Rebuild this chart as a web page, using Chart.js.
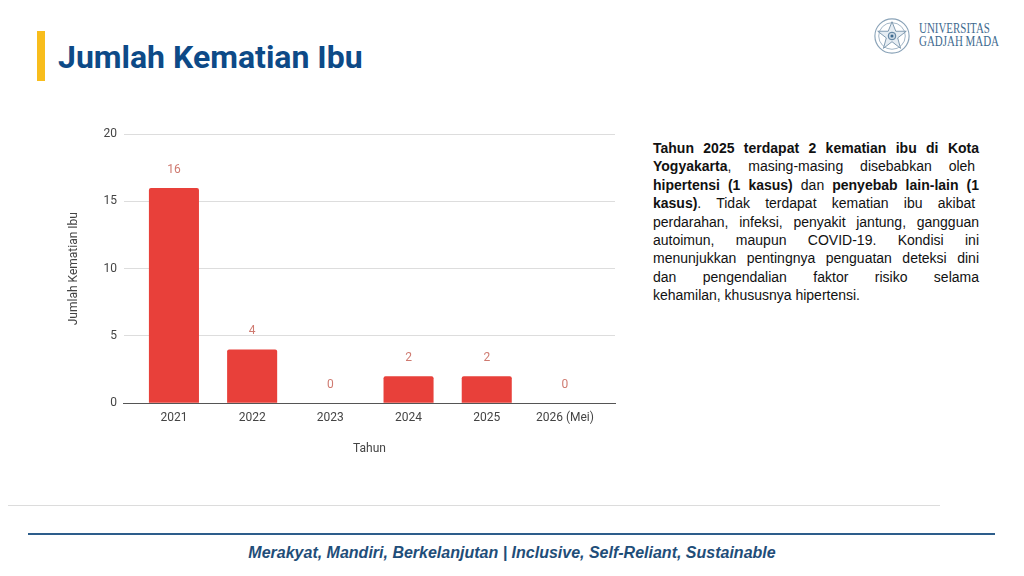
<!DOCTYPE html>
<html>
<head>
<meta charset="utf-8">
<script src="https://cdn.jsdelivr.net/npm/chart.js@4.4.1/dist/chart.umd.min.js"></script>
<style>
  html, body { margin: 0; padding: 0; background: #fff; }
  body { width: 1024px; height: 576px; position: relative; overflow: hidden; font-family: "Liberation Sans", Arial, sans-serif; }
  .accent { position: absolute; left: 37px; top: 31px; width: 8px; height: 50px; background: #f8bd1c; }
  .title { position: absolute; left: 58px; top: 38px; font-family: Roboto, sans-serif; font-weight: 700; font-size: 32px; color: #0d4a87; white-space: nowrap; }
  .logo { position: absolute; left: 873px; top: 17px; width: 38px; height: 38px; }
  .logo-text { position: absolute; left: 919px; top: 22px; font-family: "Liberation Serif", serif; font-size: 15px; line-height: 13px; color: #3e6a8f; transform: scaleX(0.73); transform-origin: left top; white-space: nowrap; }
  #wrap { position: absolute; left: 60px; top: 120px; width: 570px; height: 340px; }
  .para { position: absolute; left: 653px; top: 139px; width: 326px; font-size: 14px; line-height: 18.4px; color: #111; }
  .para div { text-align: justify; text-align-last: justify; white-space: nowrap; }
  .para div.last { text-align-last: left; }
  .gray-line { position: absolute; left: 8px; top: 505px; width: 932px; height: 1px; background: #dcdcdc; }
  .blue-line { position: absolute; left: 28px; top: 533px; width: 967px; height: 2px; background: #2d5d8b; }
  .footer { position: absolute; left: 0; width: 1024px; top: 544px; text-align: center; font-family: "Liberation Sans Narrow", "Liberation Sans", Arial, sans-serif; font-weight: 700; font-style: italic; font-size: 16px; color: #1f4e79; }
</style>
</head>
<body>
<div class="accent"></div>
<div class="title">Jumlah Kematian Ibu</div>
<svg class="logo" viewBox="0 0 40 40">
  <circle cx="20" cy="20" r="18" fill="none" stroke="#8aa3b8" stroke-width="1.2"/>
  <circle cx="20" cy="20" r="14" fill="none" stroke="#9fb3c4" stroke-width="1"/>
  <path d="M20 5 L24 15 L35 15 L26 22 L29 33 L20 26 L11 33 L14 22 L5 15 L16 15 Z" fill="#e6edf3" stroke="#6f8ca5" stroke-width="0.9"/>
  <circle cx="20" cy="20" r="4" fill="#c8d6e2" stroke="#4e7597" stroke-width="1"/>
  <circle cx="20" cy="20" r="1.6" fill="#3e6a8f"/>
</svg>
<div class="logo-text">UNIVERSITAS<br>GADJAH MADA</div>

<div id="wrap"><canvas id="chart"></canvas></div>

<div class="para">
  <div><b>Tahun 2025 terdapat 2 kematian ibu di Kota</b></div>
  <div><b>Yogyakarta</b>, masing-masing disebabkan oleh&nbsp;</div>
  <div><b>hipertensi (1 kasus)</b> dan <b>penyebab lain-lain (1</b></div>
  <div><b>kasus)</b>. Tidak terdapat kematian ibu akibat&nbsp;</div>
  <div>perdarahan, infeksi, penyakit jantung, gangguan</div>
  <div>autoimun, maupun COVID-19. Kondisi ini</div>
  <div>menunjukkan pentingnya penguatan deteksi dini</div>
  <div>dan pengendalian faktor risiko selama</div>
  <div class="last">kehamilan, khususnya hipertensi.</div>
</div>

<div class="gray-line"></div>
<div class="blue-line"></div>
<div class="footer">Merakyat, Mandiri, Berkelanjutan | Inclusive, Self-Reliant, Sustainable</div>

<script>
// data
const categories = ["2021", "2022", "2023", "2024", "2025", "2026 (Mei)"];
const deaths = [16, 4, 0, 2, 2, 0];
const yTicks = [0, 5, 10, 15, 20];

// label angka di atas batang
const valueLabels = {
  id: "valueLabels",
  afterDatasetsDraw(chart) {
    const ctx = chart.ctx;
    const meta = chart.getDatasetMeta(0);
    ctx.save();
    ctx.font = "12px Roboto, 'Liberation Sans', sans-serif";
    ctx.fillStyle = "#cf7a70";
    ctx.textAlign = "center";
    ctx.textBaseline = "middle";
    meta.data.forEach((bar, i) => {
      ctx.fillText(String(deaths[i]), bar.x, bar.y - 18);
    });
    ctx.restore();
  },
};

new Chart(document.getElementById("chart"), {
  type: "bar",
  data: {
    datasets: [
      {
        data: deaths.map((v, i) => ({ x: i, y: v })),
        backgroundColor: "#e8403a",
        borderRadius: 2,
        borderSkipped: "bottom",
        barPercentage: 0.8,
        categoryPercentage: 0.8,
      },
    ],
  },
  options: {
    responsive: true,
    maintainAspectRatio: false,
    animation: false,
    layout: { padding: { top: 6, right: 15, left: 3, bottom: 0 } },
    plugins: {
      legend: { display: false },
      tooltip: { enabled: false },
    },
    scales: {
      x: {
        type: "linear",
        offset: false,
        min: -0.64,
        max: categories.length - 1 + 0.64,
        grid: { display: false },
        border: { display: true, color: "#555", width: 1 },
        afterBuildTicks: (axis) => {
          axis.ticks = categories.map((c, i) => ({ value: i }));
        },
        ticks: {
          autoSkip: false,
          maxRotation: 0,
          color: "#444",
          font: { family: "Roboto", size: 12 },
          padding: 0,
          callback: (v) => categories[v],
        },
        title: {
          display: true,
          text: "Tahun",
          color: "#444",
          font: { family: "Roboto", size: 12 },
          padding: { top: 16 },
        },
      },
      y: {
        min: 0,
        max: 20,
        afterBuildTicks: (axis) => {
          axis.ticks = yTicks.map((v) => ({ value: v }));
        },
        grid: { color: "#dddddd", drawTicks: false },
        border: { display: false },
        ticks: {
          color: "#444",
          font: { family: "Roboto", size: 12 },
          padding: 7,
        },
        title: {
          display: true,
          text: "Jumlah Kematian Ibu",
          color: "#444",
          font: { family: "Roboto", size: 12 },
          padding: { bottom: 15 },
        },
      },
    },
  },
  plugins: [valueLabels],
});
</script>
</body>
</html>
